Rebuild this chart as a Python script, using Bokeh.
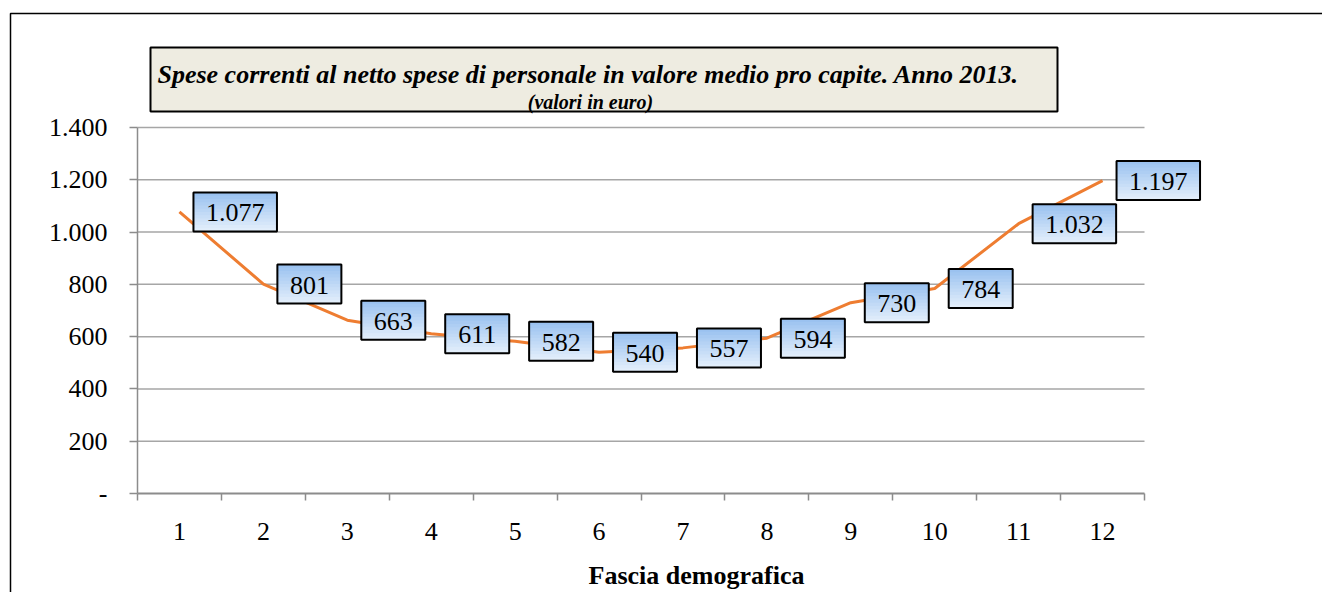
from bokeh.plotting import figure
from bokeh.models import Range1d, FixedTicker, BoxAnnotation, Label
from bokeh.embed import file_html
from bokeh.resources import INLINE

# ---------------- data ----------------
categories = list(range(1, 13))
values = [1077, 801, 663, 611, 582, 540, 557, 594, 730, 784, 1032, 1197]
y_ticks = [0, 200, 400, 600, 800, 1000, 1200, 1400]
title_text = "Spese correnti  al netto spese di personale in valore medio pro capite. Anno 2013."
subtitle_text = "(valori in euro)"
x_title = "Fascia demografica"


def fmt_it(v):
    return "-" if v == 0 else f"{v:,}".replace(",", ".")


# ---------------- layout ----------------
FONT = "Liberation Serif"
W, H = 1322, 592
AX_L, AX_R, AX_T, AX_B = 137, 1144, 127, 493   # plot area in canvas px
X0, X1 = categories[0] - 0.5, categories[-1] + 0.5
Y0, Y1 = y_ticks[0], y_ticks[-1]
PPX = (AX_R - AX_L) / (X1 - X0)
PPY = (AX_B - AX_T) / (Y1 - Y0)


def dx(px):  # canvas px -> data x
    return X0 + (px - AX_L) / PPX


def dy(py):  # canvas px -> data y
    return Y0 + (AX_B - py) / PPY


p = figure(width=W, height=H,
           x_range=Range1d(dx(0), dx(W)), y_range=Range1d(dy(H), dy(0)),
           output_backend="svg", toolbar_location=None,
           min_border_left=0, min_border_right=0, min_border_top=0, min_border_bottom=0)
p.outline_line_color = None
p.background_fill_color = "white"
p.border_fill_color = "white"
p.grid.visible = False

GRAY = "#8C8C8C"

# horizontal gridlines across the plot area only
gl = y_ticks[1:]
p.segment(x0=[X0] * len(gl), y0=gl, x1=[X1] * len(gl), y1=gl,
          line_color="#A6A6A6", line_width=1.5)

# y axis
ya = p.yaxis[0]
ya.fixed_location = X0
ya.bounds = (Y0, Y1)
ya.ticker = FixedTicker(ticks=y_ticks)
ya.major_label_overrides = {v: fmt_it(v) for v in y_ticks}
ya.axis_line_color = GRAY
ya.axis_line_width = 1.5
ya.major_tick_line_color = GRAY
ya.major_tick_line_width = 1.5
ya.major_tick_out = 8
ya.major_tick_in = 0
ya.minor_tick_line_color = None
ya.major_label_standoff = 22
ya.major_label_text_font = FONT
ya.major_label_text_font_size = "26px"
ya.major_label_text_color = "black"

# x axis
xa = p.xaxis[0]
xa.fixed_location = Y0
xa.bounds = (X0, X1)
xa.ticker = FixedTicker(ticks=categories,
                        minor_ticks=[c - 0.5 for c in categories] + [categories[-1] + 0.5])
xa.axis_line_color = GRAY
xa.axis_line_width = 2
xa.major_tick_line_color = None
xa.major_tick_out = 0
xa.major_tick_in = 0
xa.minor_tick_line_color = GRAY
xa.minor_tick_line_width = 1.5
xa.minor_tick_out = 7
xa.minor_tick_in = 0
xa.major_label_standoff = 22
xa.major_label_text_font = FONT
xa.major_label_text_font_size = "26px"
xa.major_label_text_color = "black"

# outer chart border
p.add_layout(BoxAnnotation(left=dx(10), right=dx(W + 50), top=dy(13), bottom=dy(H + 50),
                           fill_alpha=0, line_color="black", line_alpha=1, line_width=1.5))

# series line
p.line(categories, values, line_color="#EE7D31", line_width=3)

# data labels with gradient boxes
TOP_C = (0x9B, 0xC2, 0xF0)
BOT_C = (0xE2, 0xEE, 0xFB)
NSTRIP = 12
BOX_H = 39
GAP = 14
for c, v in zip(categories, values):
    txt = fmt_it(v)
    tw = 13 * sum(ch.isdigit() for ch in txt) + 6.5 * txt.count(".")
    bw = tw + 25
    left = c + GAP / PPX
    right = c + (GAP + bw) / PPX
    top = v + (BOX_H / 2) / PPY
    bottom = v - (BOX_H / 2) / PPY
    for k in range(NSTRIP):
        t = k / (NSTRIP - 1)
        col = "#%02x%02x%02x" % tuple(int(round(a + (b - a) * t)) for a, b in zip(TOP_C, BOT_C))
        st = top - (top - bottom) * k / NSTRIP
        p.add_layout(BoxAnnotation(left=left, right=right, top=st, bottom=bottom,
                                   fill_color=col, fill_alpha=1, line_alpha=0))
    p.add_layout(BoxAnnotation(left=left, right=right, top=top, bottom=bottom,
                               fill_alpha=0, line_color="black", line_alpha=1, line_width=2))
    p.add_layout(Label(x=c, y=v, x_offset=GAP + bw / 2, y_offset=-1, text=txt,
                       text_align="center", text_baseline="middle",
                       text_font=FONT, text_font_size="26px", text_color="black"))

# title box
p.add_layout(BoxAnnotation(left=dx(150), right=dx(1057), top=dy(47), bottom=dy(111),
                           fill_color="#EEECE1", fill_alpha=1,
                           line_color="black", line_alpha=1, line_width=2))
p.add_layout(Label(x=dx(591), y=dy(74), text=title_text, text_align="center",
                   text_baseline="alphabetic", text_font=FONT, text_font_style="bold italic",
                   text_font_size="26px", text_color="black"))
p.add_layout(Label(x=dx(590), y=dy(101), text=subtitle_text, text_align="center",
                   text_baseline="alphabetic", text_font=FONT, text_font_style="bold italic",
                   text_font_size="20px", text_color="black"))

# x-axis title
p.add_layout(Label(x=dx(696), y=dy(589), text=x_title, text_align="center",
                   text_baseline="bottom", text_font=FONT, text_font_style="bold",
                   text_font_size="26px", text_color="black"))

open("out.html", "w").write(file_html(p, INLINE))
